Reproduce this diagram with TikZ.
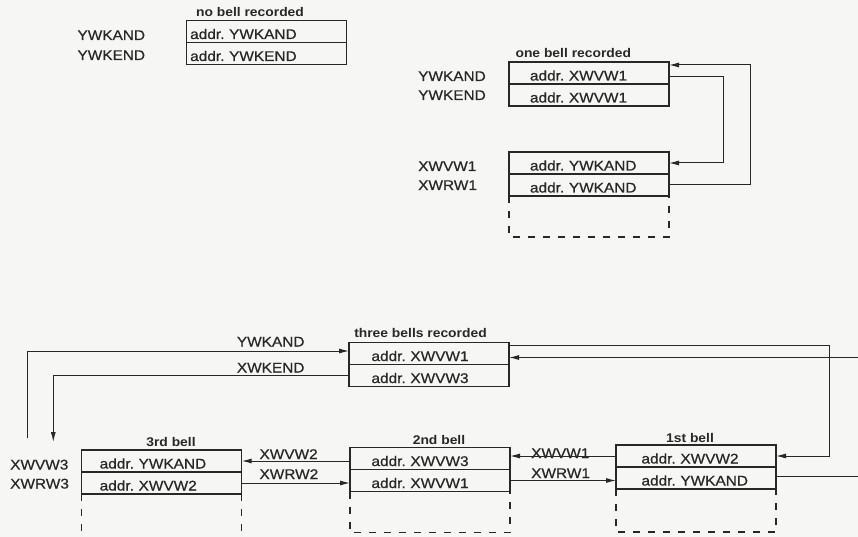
\documentclass[tikz,border=0pt]{standalone}
\usepackage{fontspec}
\setmainfont{Liberation Sans}[FakeStretch=1.1, UprightFeatures={FakeBold=0.6}]
\usetikzlibrary{arrows.meta,calc}
\definecolor{paper}{RGB}{246,246,244}
\definecolor{ink}{RGB}{40,40,40}
\begin{document}
\frenchspacing
\begin{tikzpicture}[x=1pt,y=-1pt,
  row/.style={draw=ink, line width=1.3pt, inner sep=0pt, outer sep=0pt, text width=160pt, align=left,
    text height=18.5pt, text depth=3.5pt, font=\fontsize{14}{16}\selectfont, text=ink,
    execute at begin node={\hspace*{#1}}},
  row/.default=21pt,
  lbl/.style={font=\fontsize{14}{16}\selectfont, text=ink, inner sep=0pt},
  ttl/.style={font=\bfseries\fontsize{12.6}{14}\selectfont, text=ink, inner sep=0pt},
  conn/.style={draw=ink, line width=1pt, -{Latex[length=10pt,width=5pt]}},
  plain/.style={draw=ink, line width=1pt},
  ext/.style={draw=ink, line width=1.1pt, dash pattern=on 7pt off 8pt},
]
\fill[paper] (0,0) rectangle (858,537);
\useasboundingbox (0,0) rectangle (858,537);

% ---------- no bell recorded ----------
\node[ttl, anchor=base] (tn) at (250,16.7) {no bell recorded};
\node[row=3.5pt, anchor=north west] (n1) at (186.7,20.5) {addr. YWKAND};
\node[row=3.5pt, anchor=north] (n2) at (n1.south) {addr. YWKEND};
\node[lbl, anchor=base west] (ln1) at (77.3,40) {YWKAND};
\node[lbl, anchor=base west] (ln2) at (77.3,60) {YWKEND};

% ---------- one bell recorded ----------
\node[ttl, anchor=base] (to) at (573.3,57.3) {one bell recorded};
\node[row=21pt, anchor=north west] (b1) at (509,62) {addr. XWVW1};
\node[row=21pt, anchor=north] (b2) at (b1.south) {addr. XWVW1};
\node[lbl, anchor=base west] (lo1) at (418,81) {YWKAND};
\node[lbl, anchor=base west] (lo2) at (418,100) {YWKEND};

\node[row=21pt, anchor=north west] (b3) at (509,152) {addr. YWKAND};
\node[row=21pt, anchor=north] (b4) at (b3.south) {addr. YWKAND};
\node[lbl, anchor=base west] (lo3) at (418,171) {XWVW1};
\node[lbl, anchor=base west] (lo4) at (418,190) {XWRW1};
\draw[ext] (b4.south west) -- ++(0,41) -| (b4.south east);

\draw[conn] ($(b1.east)+(0,4)$) -- ++(54,0) |- (b3.east);
\draw[conn] (b4.east) -- ++(81,0) |- ($(b1.north east)+(0,3)$);

% ---------- three bells recorded ----------
\node[ttl, anchor=base] (tt) at (420.5,337.3) {three bells recorded};
\node[row=22.5pt, anchor=north west] (t1) at (349,342.5) {addr. XWVW1};
\node[row=22.5pt, anchor=north] (t2) at (t1.south) {addr. XWVW3};

% 3rd bell
\node[ttl, anchor=base] (t3) at (171,446) {3rd bell};
\node[row=18pt, anchor=north west] (c1) at (81.7,450) {addr. YWKAND};
\node[row=18pt, anchor=north] (c2) at (c1.south) {addr. XWVW2};
\node[lbl, anchor=base west] (lc1) at (10,469.5) {XWVW3};
\node[lbl, anchor=base west] (lc2) at (10,488.5) {XWRW3};
\draw[ext] (c2.south west) -- (c2.south west |- 0,540);
\draw[ext] (c2.south east) -- (c2.south east |- 0,540);

% 2nd bell
\node[ttl, anchor=base] (t2b) at (439,444) {2nd bell};
\node[row=21.5pt, anchor=north west] (s1) at (350,447.5) {addr. XWVW3};
\node[row=21.5pt, anchor=north] (s2) at (s1.south) {addr. XWVW1};
\draw[ext] (s2.south west) -- ++(0,41) -| (s2.south east);

% 1st bell
\node[ttl, anchor=base] (t1b) at (690,442.7) {1st bell};
\node[row=25.5pt, anchor=north west] (f1) at (616,445) {addr. XWVW2};
\node[row=25.5pt, anchor=north] (f2) at (f1.south) {addr. YWKAND};
\draw[ext] (f2.south west) -- ++(0,43) -| (f2.south east);

% connector labels
\node[lbl, anchor=base west] (ly) at (236.7,346.5) {YWKAND};
\node[lbl, anchor=base west] (lx) at (236.7,372.5) {XWKEND};
\node[lbl, anchor=base west] (lv2) at (259.3,459) {XWVW2};
\node[lbl, anchor=base west] (lr2) at (259.3,479) {XWRW2};
\node[lbl, anchor=base west] (lv1) at (531,458) {XWVW1};
\node[lbl, anchor=base west] (lr1) at (531,478) {XWRW1};

% connectors
\coordinate (ya) at (27.5,438);
\coordinate (xe) at (53.3,442);
\coordinate (re1) at (858,357.5);
\coordinate (re2) at (858,476);
\draw[conn] (ya) |- ($(t1.west)+(0,-2.5)$);
\draw[conn] (t2.west) -| (xe);
\draw[conn] ($(t1.north east)+(0,2.5)$) -- ++(320,0) |- (f1.east);
\draw[conn] (re1) -- (re1 -| t1.east);
\draw[plain] (re2 -| f2.east) -- (re2);

\draw[conn] (f1.west) -- (f1.west -| s1.east);
\draw[conn] (s2.east) -- (s2.east -| f2.west);
\draw[conn] (c1.east -| s1.west) -- (c1.east);
\draw[conn] (c2.east) -- (c2.east -| s2.west);
\end{tikzpicture}
\end{document}
